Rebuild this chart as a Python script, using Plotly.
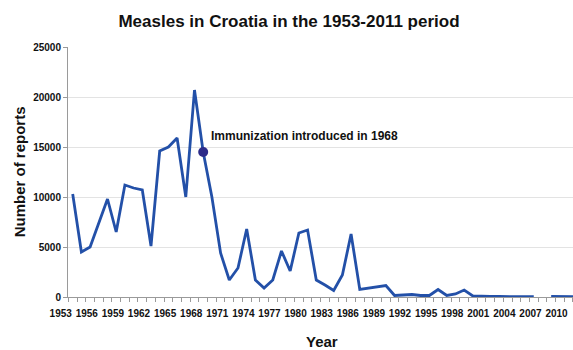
import plotly.graph_objects as go

years = list(range(1953, 2012))
reports = [10300, 4500, 5000, 7400, 9800, 6500, 11200, 10900, 10700, 5100,
           14600, 15000, 15900, 10000, 20700, 14500, 10000, 4400, 1700, 2900,
           6800, 1700, 900, 1700, 4600, 2600, 6400, 6700, 1700, 1200,
           650, 2200, 6300, 750, 900, 1050, 1150, 150, 200, 250,
           150, 150, 750, 150, 300, 700, 100, 50, 50, 50,
           50, 60, 50, 40, None, 50, 40, 30, 20]
tick_years = list(range(1953, 2011, 3))
tick_labels = [str(y) for y in tick_years]
y_ticks = [0, 5000, 10000, 15000, 20000, 25000]
y_tick_labels = [str(v) for v in y_ticks]
event_year = [1968]
event_value = [14500]
event_text = "Immunization introduced in 1968"

FONT = "Liberation Sans, Arial, sans-serif"
W, H = 573, 350
L, R, T, B = 68, 0, 46.7, 53.3
PH = H - T - B

fig = go.Figure()
fig.add_trace(go.Scatter(x=years, y=reports, mode="lines",
                         line=dict(color="#2350a8", width=2.8),
                         connectgaps=False, hoverinfo="skip"))
fig.add_trace(go.Scatter(x=event_year, y=event_value, mode="markers",
                         marker=dict(color="#2c2b8a", size=10),
                         hoverinfo="skip", cliponaxis=False))

fig.add_annotation(x=event_year[0], y=event_value[0], text=event_text,
                   showarrow=False, xanchor="left", yanchor="middle",
                   xshift=6, yshift=16,
                   font=dict(family=FONT, size=12, color="#111", weight="bold"))

fig.add_annotation(x=(19 - L) / (W - L - R), y=(H - B - 172) / PH,
                   xref="paper", yref="paper",
                   text="Number of reports", textangle=-90, showarrow=False,
                   xanchor="center", yanchor="middle",
                   font=dict(family=FONT, size=15, color="#111", weight="bold"))
fig.add_annotation(x=(322 - L) / (W - L - R), y=(H - B - 341) / PH,
                   xref="paper", yref="paper",
                   text="Year", showarrow=False, xanchor="center", yanchor="middle",
                   font=dict(family=FONT, size=15, color="#111", weight="bold"))

fig.update_layout(
    width=W, height=H,
    margin=dict(l=L, r=R, t=T, b=B),
    paper_bgcolor="white", plot_bgcolor="white",
    showlegend=False,
    title=dict(text="Measles in Croatia in the 1953-2011 period",
               x=289 / W, xref="container", xanchor="center",
               y=1 - 21.5 / H, yref="container", yanchor="middle",
               font=dict(family=FONT, size=17, color="#111", weight="bold")),
)
fig.update_xaxes(range=[1952.46, 2010.51], tickvals=tick_years, ticktext=tick_labels,
                 ticks="", ticklabelshift=-12, showgrid=False, zeroline=False,
                 showline=True, linecolor="#9a9a9a", linewidth=1,
                 tickfont=dict(family=FONT, size=10, color="#111", weight="bold"),
                 ticklabelstandoff=7,
                 minor=dict(tick0=1952.5, dtick=1, ticks="outside", ticklen=4,
                            tickcolor="#9a9a9a", showgrid=False))
fig.update_yaxes(range=[0, 25000], tickvals=y_ticks, ticktext=y_tick_labels,
                 ticks="outside", ticklen=4,
                 tickcolor="#9a9a9a", showline=True, linecolor="#9a9a9a", linewidth=1,
                 showgrid=True, gridcolor="#e3e3e3", gridwidth=1, zeroline=False,
                 tickfont=dict(family=FONT, size=10, color="#111", weight="bold"))

fig.write_html("out.html")
